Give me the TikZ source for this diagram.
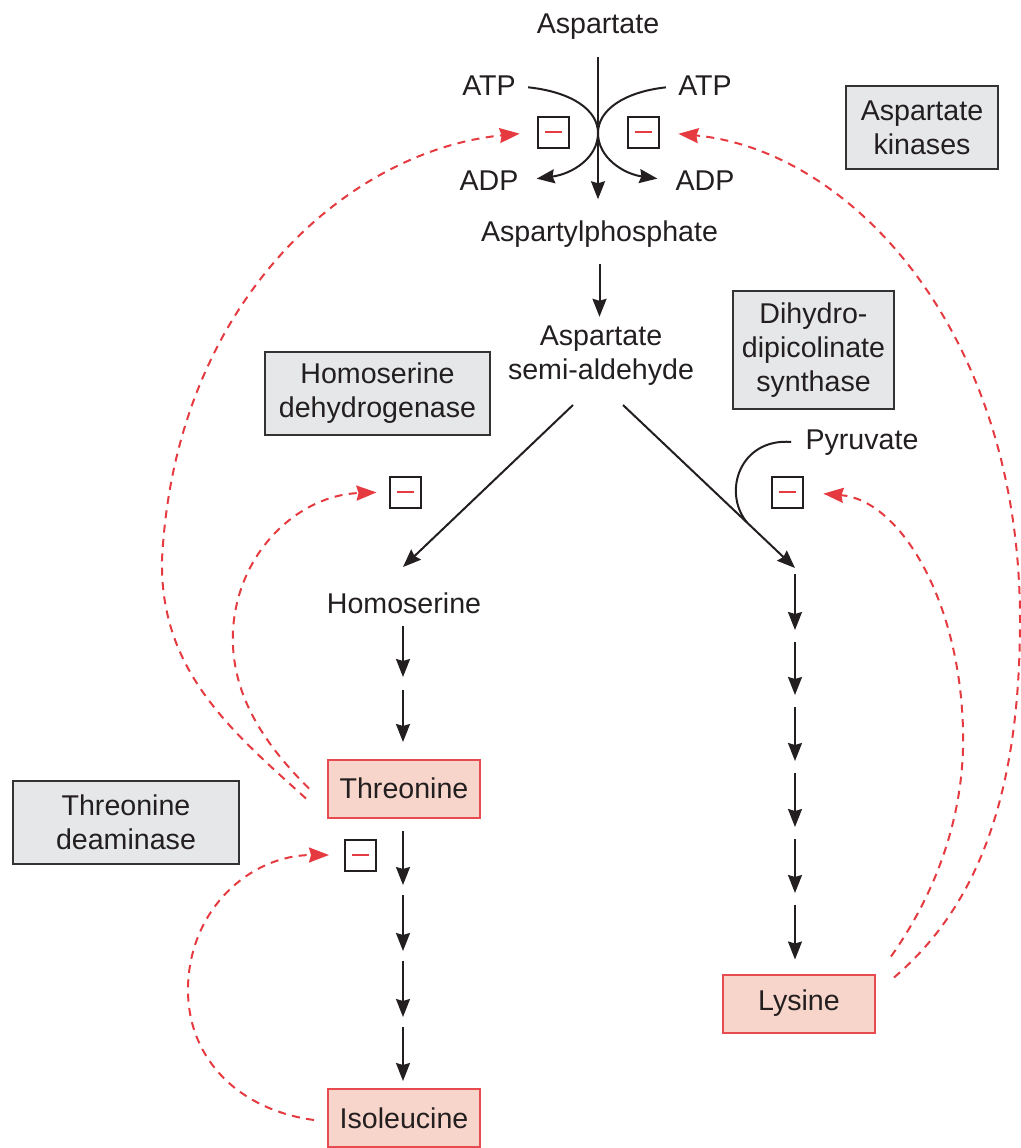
\documentclass[tikz,border=0pt]{standalone}
\usepackage{fontspec}
\setmainfont{Liberation Sans}
\usepackage{xcolor}
\usepackage{tikz}
\usetikzlibrary{arrows.meta,calc}
\definecolor{inktext}{HTML}{231F20}
\definecolor{enzfill}{HTML}{E6E7E8}
\definecolor{enzline}{HTML}{333333}
\definecolor{prodfill}{HTML}{F8D5CA}
\definecolor{prodline}{HTML}{E84B4F}
\definecolor{inhred}{HTML}{E53A40}
\newcommand{\inhsign}{\textcolor{inhred}{\rule{8.5pt}{1pt}}}

\begin{document}
\begin{tikzpicture}[x=0.5pt,y=-0.5pt,
  every node/.style={font=\fontsize{14.3}{17}\selectfont,text=inktext},
  metab/.style={inner sep=0pt,align=center},
  enzyme/.style={draw=enzline,fill=enzfill,line width=1.2pt,align=center,inner sep=0pt,minimum height=41.5pt},
  product/.style={draw=prodline,fill=prodfill,line width=1pt,minimum width=76pt,minimum height=29pt,inner sep=0pt},
  minusbox/.style={draw=inktext,line width=1pt,minimum size=15.5pt,inner sep=0pt},
  flux/.style={draw=inktext,line width=1pt,-{Stealth[length=9pt,width=7pt,inset=1pt]}},
  feedback/.style={draw=inhred,line width=1pt,dash pattern=on 4pt off 3.2pt,-{Stealth[length=10pt,width=7.5pt,inset=1pt]}}
]
\useasboundingbox (0,0) rectangle (1021,1148);

\node[metab] (asp) at (598,27) {Aspartate};
\node[metab] (atpl) at (489,86) {ATP};
\node[metab] (atpr) at (705,86) {ATP};
\node[metab] (adpl) at (489,181) {ADP};
\node[metab] (adpr) at (705,181) {ADP};
\node[minusbox] (mkl) at (553,132) {\inhsign};
\node[minusbox] (mkr) at (643,132) {\inhsign};
\node[metab] (aspp) at (599.5,234) {Aspartylphosphate};
\node[metab] (asa) at (601,356) {Aspartate\\semi-aldehyde};
\node[metab] (pyr) at (862,443) {Pyruvate};
\node[metab] (hse) at (404,603) {Homoserine};
\node[minusbox] (mhs) at (405,492) {\inhsign};
\node[minusbox] (mdh) at (787,492) {\inhsign};
\node[minusbox] (mtd) at (360.5,855) {\inhsign};

\node[enzyme,minimum width=76pt] (aspk) at (922,127.5) {Aspartate\\kinases};
\node[enzyme,minimum width=80.5pt,minimum height=59pt] (dhps) at (813.5,350) {Dihydro-\\dipicolinate\\synthase};
\node[enzyme,minimum width=112.5pt] (hsdh) at (377.5,393.5) {Homoserine\\dehydrogenase};
\node[enzyme,minimum width=113pt] (tdam) at (126,822.5) {Threonine\\deaminase};

\node[product] (thr) at (404,788.5) {Threonine};
\node[product] (iso) at (404,1118) {Isoleucine};
\node[product] (lys) at (799,1003.5) {Lysine};

\coordinate (forkl) at (573,405);
\coordinate (forkr) at (623,405);
\coordinate (hs0) at (403,567);
\coordinate (lk0) at (795,568);
\coordinate (join) at ($(forkr)!0.721!(lk0)$);
\foreach \y [count=\i] in {636,701,767,833,899} \coordinate (lk\i) at (795,\y);
\coordinate (h1) at (403,683);
\foreach \y [count=\i] in {890,956,1022} \coordinate (t\i) at (403,\y);

\draw[flux,shorten <=8.5pt,shorten >=10.5pt] (asp.south) -- (asp.south |- aspp.north);
\draw[flux,shorten <=6pt,shorten >=9pt] (atpl.east) .. controls (572,92) and (598,110) .. (598,133) .. controls (598,158) and (572,174) .. (adpl.east);
\draw[flux,shorten <=6pt,shorten >=9pt] (atpr.west) .. controls (624,92) and (598,110) .. (598,133) .. controls (598,158) and (624,174) .. (adpr.west);
\draw[flux,shorten <=8pt,shorten >=4.5pt] (aspp.south) -- (aspp.south |- asa.north);
\draw[flux] (forkl) -- (hs0);
\draw[flux] (forkr) -- (lk0);
\draw[draw=inktext,line width=1pt,shorten <=7pt] (pyr.west) .. controls (740,438) and (722,492) .. (join);

\draw[flux,shorten <=6pt,shorten >=3pt] (h1 |- hse.south) -- (h1);
\draw[flux,shorten <=3.5pt,shorten >=8.25pt] (h1) -- (h1 |- thr.north);
\draw[flux,shorten <=6pt,shorten >=2.5pt] (t1 |- thr.south) -- (t1);
\foreach \i/\j in {1/2,2/3} \draw[flux,shorten <=2.5pt,shorten >=2.5pt] (t\i) -- (t\j);
\draw[flux,shorten <=2.5pt,shorten >=3.5pt] (t3) -- (t3 |- iso.north);
\foreach \i/\j in {0/1,1/2,2/3,3/4,4/5} \draw[flux,shorten <=3pt,shorten >=3pt] (lk\i) -- (lk\j);
\draw[flux,shorten <=3pt,shorten >=7pt] (lk5) -- (lk5 |- lys.north);

\draw[feedback,shorten >=8.5pt] ([shift={(-10.5pt,-5pt)}]thr.west) .. controls (230,730) and (160,670) .. (162,560) .. controls (175,300) and (350,150) .. (mkl.west);
\draw[feedback,shorten >=6pt] ([xshift=-9pt]thr.west) .. controls (260,740) and (230,690) .. (233,630) .. controls (238,550) and (300,495) .. (mhs.west);
\draw[feedback,shorten >=7.5pt] ([shift={(-6.5pt,-1pt)}]iso.west) .. controls (240,1110) and (188,1060) .. (188,990) .. controls (188,910) and (250,855) .. (mtd.west);
\draw[feedback,shorten >=10pt] ([shift={(7.5pt,8.5pt)}]lys.north east) .. controls (945,880) and (965,800) .. (963,730) .. controls (960,600) and (900,500) .. (mdh.east);
\draw[feedback,shorten >=9.5pt] ([shift={(9pt,-2pt)}]lys.north east) .. controls (985,900) and (1020,780) .. (1020,620) .. controls (1020,330) and (850,150) .. (mkr.east);
\end{tikzpicture}
\end{document}
